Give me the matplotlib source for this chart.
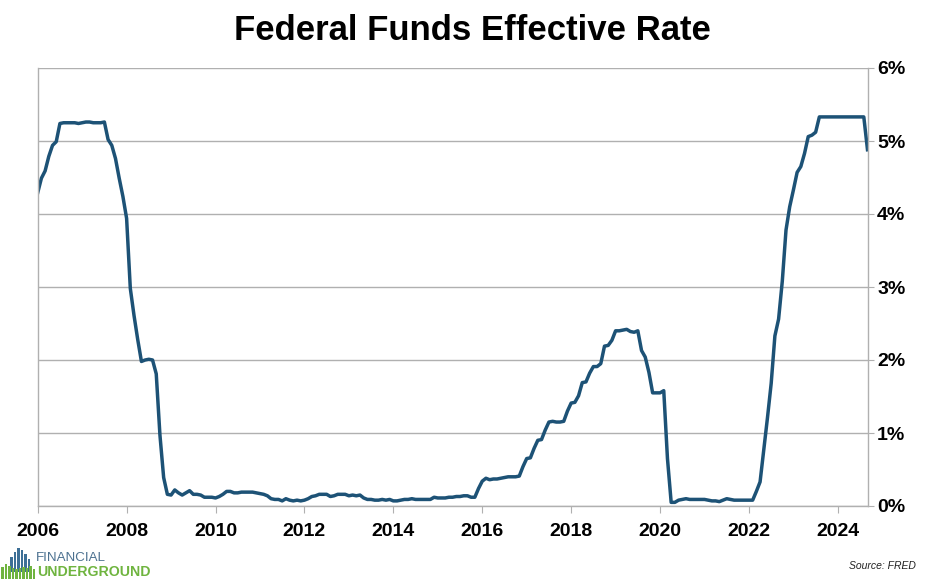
import numpy as np
import matplotlib
matplotlib.use("Agg")
import matplotlib.pyplot as plt
from matplotlib.patches import Rectangle

plt.rcParams['font.family'] = ['Liberation Sans', 'DejaVu Sans']

# monthly effective fed funds rate (%), Jan 2006 .. Sep 2024
rate_2006 = [4.29, 4.49, 4.59, 4.79, 4.94, 4.99, 5.24, 5.25, 5.25, 5.25, 5.25, 5.24]
rate_2007 = [5.25, 5.26, 5.26, 5.25, 5.25, 5.25, 5.26, 5.02, 4.94, 4.76, 4.49, 4.24]
rate_2008 = [3.94, 2.98, 2.61, 2.28, 1.98, 2.00, 2.01, 2.00, 1.81, 0.97, 0.39, 0.16]
rate_2009 = [0.15, 0.22, 0.18, 0.15, 0.18, 0.21, 0.16, 0.16, 0.15, 0.12, 0.12, 0.12]
rate_2010 = [0.11, 0.13, 0.16, 0.20, 0.20, 0.18, 0.18, 0.19, 0.19, 0.19, 0.19, 0.18]
rate_2011 = [0.17, 0.16, 0.14, 0.10, 0.09, 0.09, 0.07, 0.10, 0.08, 0.07, 0.08, 0.07]
rate_2012 = [0.08, 0.10, 0.13, 0.14, 0.16, 0.16, 0.16, 0.13, 0.14, 0.16, 0.16, 0.16]
rate_2013 = [0.14, 0.15, 0.14, 0.15, 0.11, 0.09, 0.09, 0.08, 0.08, 0.09, 0.08, 0.09]
rate_2014 = [0.07, 0.07, 0.08, 0.09, 0.09, 0.10, 0.09, 0.09, 0.09, 0.09, 0.09, 0.12]
rate_2015 = [0.11, 0.11, 0.11, 0.12, 0.12, 0.13, 0.13, 0.14, 0.14, 0.12, 0.12, 0.24]
rate_2016 = [0.34, 0.38, 0.36, 0.37, 0.37, 0.38, 0.39, 0.40, 0.40, 0.40, 0.41, 0.54]
rate_2017 = [0.65, 0.66, 0.79, 0.90, 0.91, 1.04, 1.15, 1.16, 1.15, 1.15, 1.16, 1.30]
rate_2018 = [1.41, 1.42, 1.51, 1.69, 1.70, 1.82, 1.91, 1.91, 1.95, 2.19, 2.20, 2.27]
rate_2019 = [2.40, 2.40, 2.41, 2.42, 2.39, 2.38, 2.40, 2.13, 2.04, 1.83, 1.55, 1.55]
rate_2020 = [1.55, 1.58, 0.65, 0.05, 0.05, 0.08, 0.09, 0.10, 0.09, 0.09, 0.09, 0.09]
rate_2021 = [0.09, 0.08, 0.07, 0.07, 0.06, 0.08, 0.10, 0.09, 0.08, 0.08, 0.08, 0.08]
rate_2022 = [0.08, 0.08, 0.20, 0.33, 0.77, 1.21, 1.68, 2.33, 2.56, 3.08, 3.78, 4.10]
rate_2023 = [4.33, 4.57, 4.65, 4.83, 5.06, 5.08, 5.12, 5.33, 5.33, 5.33, 5.33, 5.33]
rate_2024 = [5.33, 5.33, 5.33, 5.33, 5.33, 5.33, 5.33, 5.33, 4.88]

rates = (rate_2006 + rate_2007 + rate_2008 + rate_2009 + rate_2010 + rate_2011
         + rate_2012 + rate_2013 + rate_2014 + rate_2015 + rate_2016 + rate_2017
         + rate_2018 + rate_2019 + rate_2020 + rate_2021 + rate_2022 + rate_2023
         + rate_2024)
start_year = 2006
months = start_year + np.arange(len(rates)) / 12.0

year_ticks = [2006, 2008, 2010, 2012, 2014, 2016, 2018, 2020, 2022, 2024]
pct_ticks = [0, 1, 2, 3, 4, 5, 6]

fig = plt.figure(figsize=(9.33, 5.8), dpi=100)
ax = fig.add_axes([37.7 / 933, 1 - 506 / 580, (867.5 - 37.7) / 933, (506 - 68) / 580])

ax.plot(months, rates, color='#1d5276', lw=2.5, solid_joinstyle='round')

ax.set_xlim(start_year, months[-1])
ax.set_ylim(0, 6)

grid_c = '#b0b0b0'
ax.set_yticks(pct_ticks)
ax.set_yticklabels([f'{p}%' for p in pct_ticks])
ax.yaxis.tick_right()
ax.set_xticks(year_ticks)
ax.set_xticklabels([str(y) for y in year_ticks])
ax.grid(axis='y', color=grid_c, lw=1)
ax.set_axisbelow(True)
ax.tick_params(axis='y', length=4, color=grid_c, pad=3, labelsize=14)
ax.tick_params(axis='x', length=5, color=grid_c, pad=7, labelsize=14)
for lab in ax.get_xticklabels() + ax.get_yticklabels():
    lab.set_fontweight('bold')
for side in ['left', 'right', 'bottom']:
    ax.spines[side].set_color(grid_c)
    ax.spines[side].set_linewidth(1)
ax.spines['top'].set_visible(False)

fig.text(472 / 933, 1 - 31 / 580, 'Federal Funds Effective Rate', ha='center', va='center',
         fontsize=25, fontweight='bold')

fig.text(916 / 933, 1 - 566 / 580, 'Source: FRED', ha='right', va='center',
         fontsize=7.5, style='italic', color='#222222')

# logo: skyline icon + wordmark
def px_rect(x, y, w, h, c):
    fig.add_artist(Rectangle((x / 933, 1 - (y + h) / 580), w / 933, h / 580,
                             transform=fig.transFigure, color=c, lw=0))

blue = '#3d6f96'
green = '#6fb43f'
for x, top in [(10, 557), (13.5, 552), (17, 548), (20.5, 550), (24, 554), (27.5, 559)]:
    px_rect(x, top, 2.8, 572 - top, blue)
for x, top in [(1, 567), (4.5, 564), (8, 566), (11.5, 568), (15, 569), (18.5, 568),
               (22, 567), (25.5, 568), (29, 566), (32.5, 569)]:
    px_rect(x, top, 2.6, 579 - top, green)

fig.text(36 / 933, 1 - 558 / 580, 'FINANCIAL', ha='left', va='center',
         fontsize=9.6, color='#4c7190', fontweight='light')
fig.text(37 / 933, 1 - 572 / 580, 'UNDERGROUND', ha='left', va='center',
         fontsize=10.2, color=green, fontweight='bold')

fig.savefig('out.png', dpi=100)
